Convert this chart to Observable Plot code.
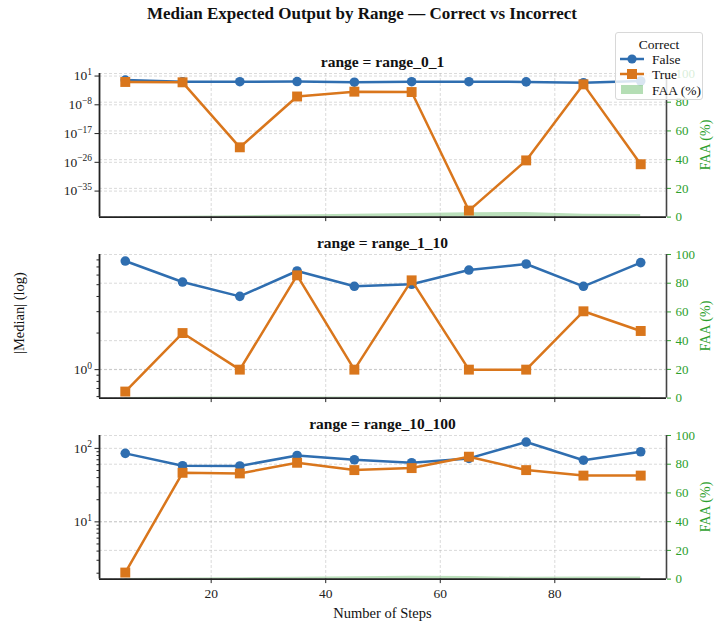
<!DOCTYPE html>
<html><head><meta charset="utf-8">
<script src="https://cdn.jsdelivr.net/npm/d3@7"></script>
<script src="https://cdn.jsdelivr.net/npm/@observablehq/plot@0.6"></script>
<style>
body{margin:0;background:#fff;}
#fig{position:relative;width:717px;height:628px;font-family:"Liberation Serif","Times New Roman",serif;color:#111;overflow:hidden;background:#fff}
#fig svg text{font-family:"Liberation Serif","Times New Roman",serif !important;}
.abs{position:absolute;white-space:nowrap;line-height:1}
.ctr{transform:translate(-50%,-50%)}
.rot{transform:translate(-50%,-50%) rotate(-90deg)}
#fig > svg{position:absolute;left:0}
</style></head><body><div id="fig"></div>
<script>
// ---------------- data ----------------
const steps = [5, 15, 25, 35, 45, 55, 65, 75, 85, 95];
const panelNames = ["range_0_1", "range_1_10", "range_10_100"];

const falseR0_1 = [0.57, 0.17, 0.17, 0.19, 0.12, 0.17, 0.17, 0.15, 0.08, 0.28];
const trueR0_1  = [0.14, 0.11, 5e-22, 4e-6, 1.3e-4, 1e-4, 8e-42, 4e-26, 0.025, 2.5e-27];
const faaR0_1   = [0.3, 0.6, 1.0, 1.5, 2.0, 2.5, 3.0, 3.2, 2.0, 1.8];

const falseR1_10 = [7.83, 5.26, 4.01, 6.48, 4.85, 5.04, 6.6, 7.4, 4.85, 7.6];
const trueR1_10  = [0.66, 2.0, 1.0, 5.97, 1.0, 5.43, 1.0, 1.0, 3.02, 2.08];
const faaR1_10   = [0.5, 0.7, 0.7, 0.7, 0.7, 0.7, 0.7, 0.7, 0.7, 0.7];

const falseR10_100 = [85.5, 58, 57.6, 80, 70, 63.7, 73, 122, 69, 90];
const trueR10_100  = [2.04, 46.5, 45.6, 63.7, 50.6, 53.9, 77, 50.6, 42.6, 42.6];
const faaR10_100   = [0.5, 0.8, 1.0, 1.2, 1.6, 2.0, 1.8, 1.2, 1.5, 1.5];

const majorTicksR0_1 = [1e1, 1e-8, 1e-17, 1e-26, 1e-35];
const majorLabelsR0_1 = ["1", "−8", "−17", "−26", "−35"];
const minorTicksR0_1 = [];
const majorTicksR1_10 = [1];
const majorLabelsR1_10 = ["0"];
const minorTicksR1_10 = [0.6, 0.7, 0.8, 0.9, 2, 3, 4, 5, 6, 7, 8];
const majorTicksR10_100 = [10, 100];
const majorLabelsR10_100 = ["1", "2"];
const minorTicksR10_100 = [2, 3, 4, 5, 6, 7, 8, 9, 20, 30, 40, 50, 60, 70, 80, 90];

const xTicks = [20, 40, 60, 80];
const faaTicks = [0, 20, 40, 60, 80, 100];

const seriesLabels = ["False", "True"];
const legendTitle = "Correct";
const faaLabel = "FAA (%)";
const titleText = "Median Expected Output by Range — Correct vs Incorrect";
const xLabelText = "Number of Steps";
const yLabelText = "|Median| (log)";

// ---------------- styling ----------------
const BLUE = "#2f6eb0", ORANGE = "#d9761c", GREEN = "#2ca02c";
const FONT = '"Liberation Serif","Times New Roman",serif';
const W = 717, ML = 99, MR = 51;
const frameTops = [72.7, 254, 435];
const frameH = 143.6;

const panels = [
  {name: panelNames[0], f: falseR0_1, t: trueR0_1, faa: faaR0_1, major: majorTicksR0_1, labels: majorLabelsR0_1, minor: minorTicksR0_1},
  {name: panelNames[1], f: falseR1_10, t: trueR1_10, faa: faaR1_10, major: majorTicksR1_10, labels: majorLabelsR1_10, minor: minorTicksR1_10},
  {name: panelNames[2], f: falseR10_100, t: trueR10_100, faa: faaR10_100, major: majorTicksR10_100, labels: majorLabelsR10_100, minor: minorTicksR10_100}
];

const fig = document.getElementById("fig");
function addText(txt, x, y, cls, style) {
  const d = document.createElement("div");
  d.className = "abs " + cls;
  d.style.left = x + "px"; d.style.top = y + "px";
  Object.assign(d.style, style || {});
  d.textContent = txt;
  fig.appendChild(d);
  return d;
}

const span = steps[steps.length - 1] - steps[0];
const xDom = [steps[0] - 0.05 * span, steps[steps.length - 1] + 0.05 * span];
const gridStyle = {stroke: "#b0b0b0", strokeOpacity: 0.6, strokeDasharray: "3,2", strokeWidth: 0.8};

panels.forEach((p, i) => {
  const mt = 30, mb = 28, H = mt + frameH + mb;
  const svgTop = frameTops[i] - mt;
  const fRows = steps.map((s, j) => ({step: s, v: p.f[j]}));
  const tRows = steps.map((s, j) => ({step: s, v: p.t[j]}));
  const faaRows = steps.map((s, j) => ({step: s, faa: p.faa[j]}));
  const all = p.f.concat(p.t);
  const lo = Math.log10(d3.min(all)), hi = Math.log10(d3.max(all)), pad = 0.05 * (hi - lo);
  const yDom = [10 ** (lo - pad), 10 ** (hi + pad)];

  // FAA (twin axis) layer underneath
  const faaPlot = Plot.plot({
    width: W, height: H, marginLeft: ML, marginRight: MR, marginTop: mt, marginBottom: mb,
    style: {background: "transparent", fontFamily: FONT, fontSize: "13px"},
    x: {domain: xDom, axis: null},
    y: {domain: [0, 100], axis: null, label: null},
    marks: [
      Plot.gridY(faaTicks, gridStyle),
      Plot.areaY(faaRows, {x: "step", y: "faa", fill: GREEN, fillOpacity: 0.32}),
      Plot.axisY({ticks: faaTicks, anchor: "right", color: GREEN, tickSize: 4, tickPadding: 5, label: null, fontSize: 13, fontFamily: FONT}),
      Plot.ruleX([xDom[1]], {stroke: "#444", strokeWidth: 1.6})
    ]
  });
  faaPlot.style.top = svgTop + "px";
  fig.appendChild(faaPlot);

  const main = Plot.plot({
    width: W, height: H, marginLeft: ML, marginRight: MR, marginTop: mt, marginBottom: mb,
    style: {background: "transparent", fontFamily: FONT, fontSize: "13px", color: "#222"},
    x: {domain: xDom, label: null},
    y: {type: "log", domain: yDom, label: null},
    marks: [
      Plot.gridX(xTicks, gridStyle),
      Plot.gridY(p.major, gridStyle),
      Plot.line(fRows, {x: "step", y: "v", stroke: BLUE, strokeWidth: 2.5}),
      Plot.dot(fRows, {x: "step", y: "v", fill: BLUE, symbol: "circle", r: 4.8}),
      Plot.line(tRows, {x: "step", y: "v", stroke: ORANGE, strokeWidth: 2.5}),
      Plot.dot(tRows, {x: "step", y: "v", fill: ORANGE, symbol: "square", r: 5.6}),
      Plot.axisY({ticks: p.major, tickFormat: (d) => "10^" + p.labels[p.major.indexOf(d)], tickSize: 4.5, tickPadding: 3, label: null, fontSize: 13.5, fontFamily: FONT}),
      ...(p.minor.length ? [Plot.axisY({ticks: p.minor, tickFormat: () => "", tickSize: 2.5, label: null})] : []),
      Plot.axisX({ticks: xTicks, tickSize: 4.5, tickPadding: 5, tickFormat: i === 2 ? (d) => String(d) : () => "", label: null, fontSize: 13.5, fontFamily: FONT}),
      Plot.ruleX([xDom[0]], {stroke: "#222", strokeWidth: 1.8}),
      Plot.ruleY([yDom[0]], {stroke: "#222", strokeWidth: 1.8})
    ]
  });
  main.style.top = svgTop + "px";
  // superscripts for log tick labels
  d3.select(main).selectAll('g[aria-label="y-axis tick label"] text').each(function () {
    const t = d3.select(this);
    const s = t.text();
    const m = s.match(/^10\^(.+)$/);
    if (m) {
      t.text("10");
      t.append("tspan").attr("dy", "-0.55em").attr("font-size", "9.5px").text(m[1]);
    }
  });
  fig.appendChild(main);

  addText("range = " + p.name, (ML + W - MR) / 2, frameTops[i] - 11, "ctr", {fontWeight: "bold", fontSize: "15.5px"});
  addText(faaLabel, 706, frameTops[i] + frameH / 2, "rot", {color: GREEN, fontSize: "14px"});
});

addText(titleText, 362, 13, "ctr", {fontWeight: "bold", fontSize: "17px"});
addText(xLabelText, (ML + W - MR) / 2, 613, "ctr", {fontSize: "14.5px"});
addText(yLabelText, 19, 313, "rot", {fontSize: "14.5px"});

// legend
const lg = document.createElement("div");
lg.className = "abs";
Object.assign(lg.style, {left: "615px", top: "32px", width: "88px", height: "68px", background: "rgba(255,255,255,0.82)",
  border: "1px solid #d8d8d8", borderRadius: "3px", boxSizing: "border-box", fontSize: "13.5px"});
lg.innerHTML =
  `<div style="position:absolute;left:0;width:100%;top:5px;text-align:center">${legendTitle}</div>` +
  `<svg width="26" height="12" style="position:absolute;left:3px;top:20px"><line x1="1" x2="25" y1="6" y2="6" stroke="${BLUE}" stroke-width="2.5"/><circle cx="13" cy="6" r="4.6" fill="${BLUE}"/></svg>` +
  `<div style="position:absolute;left:36px;top:20px">${seriesLabels[0]}</div>` +
  `<svg width="26" height="12" style="position:absolute;left:3px;top:35px"><line x1="1" x2="25" y1="6" y2="6" stroke="${ORANGE}" stroke-width="2.5"/><rect x="8" y="1" width="10" height="10" fill="${ORANGE}"/></svg>` +
  `<div style="position:absolute;left:36px;top:35px">${seriesLabels[1]}</div>` +
  `<svg width="26" height="12" style="position:absolute;left:5px;top:51px"><rect x="0" y="1" width="22" height="9" fill="${GREEN}" fill-opacity="0.35"/></svg>` +
  `<div style="position:absolute;left:36px;top:51px">${faaLabel}</div>`;
fig.appendChild(lg);
</script></body></html>
